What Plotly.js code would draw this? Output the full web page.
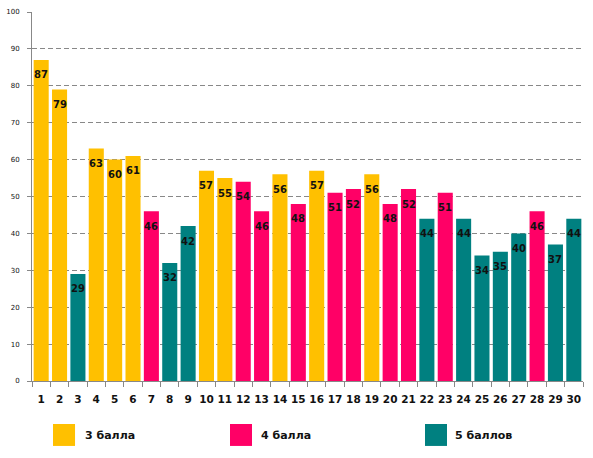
<!DOCTYPE html>
<html>
<head>
<meta charset="utf-8">
<script src="https://cdn.plot.ly/plotly-3.0.1.min.js"></script>
<style>html,body{margin:0;padding:0;background:#fff}#chart{width:593px;height:458px}</style>
</head>
<body>
<div id="chart"></div>
<script>
var categories = ["1","2","3","4","5","6","7","8","9","10","11","12","13","14","15","16","17","18","19","20","21","22","23","24","25","26","27","28","29","30"];
var values = [87,79,29,63,60,61,46,32,42,57,55,54,46,56,48,57,51,52,56,48,52,44,51,44,34,35,40,46,37,44];
var grades = [3,3,5,3,3,3,4,5,5,3,3,4,4,3,4,3,4,4,3,4,4,5,4,5,5,5,5,4,5,5];
var seriesNames = ["3 балла","4 балла","5 баллов"];
var seriesGrades = [3,4,5];
var seriesColors = ["#FFC000","#FF0066","#008080"];

var traces = [];
seriesGrades.forEach(function(g, i){
  var xs = [], ys = [];
  categories.forEach(function(c, j){ if (grades[j] === g) { xs.push(c); ys.push(values[j]); } });
  traces.push({type:'bar', x:xs, y:ys, name:seriesNames[i], marker:{color:seriesColors[i], line:{width:0}}, hoverinfo:'x+y', showlegend:false});
});

var shapes = [], annotations = [];
categories.forEach(function(c, j){
  annotations.push({x:j, y:values[j], xref:'x', yref:'y', text:String(values[j]), showarrow:false,
    xanchor:'center', yanchor:'middle', yshift:-15,
    font:{family:'DejaVu Sans', size:10, color:'#111', weight:'bold'}});
});
var legX0 = [0.0381, 0.3593, 0.7132];
var legTX = [0.0926, 0.412, 0.764];
seriesNames.forEach(function(n, i){
  shapes.push({type:'rect', xref:'paper', yref:'paper', x0:legX0[i], x1:legX0[i]+0.04, y0:-0.176, y1:-0.1165, fillcolor:seriesColors[i], line:{width:0}});
  annotations.push({xref:'paper', yref:'paper', x:legTX[i], y:-0.149, xanchor:'left', yanchor:'middle', showarrow:false, text:n, font:{family:'DejaVu Sans', size:11, color:'#111', weight:'bold'}});
});

var layout = {
  width:593, height:458,
  margin:{l:32, r:10, t:12, b:77},
  paper_bgcolor:'#fff', plot_bgcolor:'#fff',
  barmode:'overlay', bargap:0.18,
  showlegend:false,
  xaxis:{type:'category', categoryorder:'array', categoryarray:categories, range:[-0.5, categories.length-0.5], showline:true, linecolor:'#888', linewidth:1,
    ticks:'outside', tickson:'boundaries', ticklen:5, tickcolor:'#888', showgrid:false, tickangle:0,
    tickfont:{family:'DejaVu Sans', size:10.5, color:'#111', weight:'bold'}, ticklabelstandoff:8, fixedrange:true},
  yaxis:{range:[0,100], dtick:10, showline:true, linecolor:'#888', linewidth:1, ticks:'outside', ticklen:4, tickcolor:'#888',
    showgrid:true, gridcolor:'#888', griddash:'5px,3px', gridwidth:1, zeroline:false,
    tickfont:{family:'DejaVu Sans', size:7, color:'#111'}, ticklabelstandoff:6, fixedrange:true},
  shapes:shapes, annotations:annotations
};
Plotly.newPlot('chart', traces, layout, {displayModeBar:false, staticPlot:true});
</script>
</body>
</html>
